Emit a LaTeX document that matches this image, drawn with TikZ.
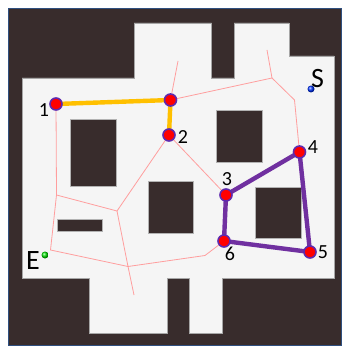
\documentclass[tikz,border=0pt]{standalone}
\usepackage{fontspec}
\setmainfont{Carlito}
\definecolor{wallcol}{HTML}{382C2C}
\definecolor{floorcol}{HTML}{F5F5F5}
\definecolor{framecol}{HTML}{2F4F7F}
\definecolor{pathorange}{HTML}{FFC000}
\definecolor{pathpurple}{HTML}{7030A0}
\definecolor{edgepink}{HTML}{FF9E9E}
\pgfdeclarelayer{edges}
\pgfsetlayers{edges,main}
\tikzset{
  wall/.style={fill=wallcol, draw=gray!60, line width=0.4pt},
  edgeline/.style={draw=edgepink, line width=0.8pt},
  orangepath/.style={draw=pathorange, line width=4.4pt},
  purplepath/.style={draw=pathpurple, line width=4.4pt},
  waypoint/.style={circle, fill=red, draw=pathpurple!85!blue, line width=1.6pt, minimum size=12pt, inner sep=0pt},
  numlabel/.style={font=\fontsize{20}{20}\selectfont, inner sep=0pt},
  endlabel/.style={font=\fontsize{28}{28}\selectfont, inner sep=0pt},
  enddot/.style={circle, minimum size=7pt, inner sep=0pt},
}
\begin{document}
\begin{tikzpicture}[x=1pt, y=-1pt]
    \useasboundingbox (0, 0) rectangle (341, 347);
    % Waypoints
    \node[waypoint] (p1) at (56, 104) {};
    \node[waypoint] (ptop) at (170.5, 100) {};
    \node[waypoint] (p2) at (169, 135) {};
    \node[waypoint] (p3) at (226, 195) {};
    \node[waypoint] (p4) at (299.5, 152) {};
    \node[waypoint] (p5) at (310, 252) {};
    \node[waypoint] (p6) at (224, 241) {};
    % Junctions and free ends
    \coordinate (ja) at (56.5, 195);
    \coordinate (jb) at (117, 211);
    \coordinate (jc) at (50.5, 250);
    \coordinate (jd) at (128, 266.5);
    \coordinate (je) at (205, 255.5);
    \coordinate (jf) at (272, 78);
    \coordinate (jg) at (294.5, 100);
    \coordinate (enda) at (134, 295);
    \coordinate (endb) at (178, 61);
    \coordinate (endc) at (267, 50);
    \begin{pgfonlayer}{edges}
        % Outer frame
        \draw[fill=wallcol, draw=framecol, line width=1.4pt] (8.7, 8.7) rectangle (342, 345.5);
        % Floor
        \draw[fill=floorcol, draw=gray!70, line width=0.5pt] (22, 78) -- (134, 78) -- (134, 23) -- (211.5, 23) -- (211.5, 78) -- (234, 78) -- (234, 23) -- (289, 23) -- (289, 56) -- (334, 56) -- (334, 278) -- (222.5, 278) -- (222.5, 333) -- (189.5, 333) -- (189.5, 278) -- (167, 278) -- (167, 333) -- (89, 333) -- (89, 278) -- (22, 278) -- cycle;
        % Obstacles
        \draw[wall] (70.5, 119) rectangle (116, 186.5);
        \draw[wall] (57, 219) rectangle (102.5, 231.5);
        \draw[wall] (148.5, 181) rectangle (193, 233);
        \draw[wall] (216.5, 110) rectangle (262, 162);
        \draw[wall] (255.5, 187) rectangle (301, 238);
        % Thin edges
        \draw[edgeline] (p1) -- (ja) -- (jc) -- (jd) -- (enda);
        \draw[edgeline] (ja) -- (jb) -- (p2) -- (p3);
        \draw[edgeline] (jb) -- (jd) -- (je) -- (p6);
        \draw[edgeline] (ptop) -- (endb);
        \draw[edgeline] (ptop) -- (jf) -- (endc);
        \draw[edgeline] (jf) -- (jg) -- (p4);
        % Paths
        \draw[orangepath] (p1.center) -- (ptop.center) -- (p2.center);
        \draw[purplepath] (p3.center) -- (p4.center) -- (p5.center) -- (p6.center) -- cycle;
    \end{pgfonlayer}
    % Start and end
    \node[enddot, ball color=blue!80!cyan] (startdot) at (311, 89) {};
    \node[enddot, ball color=green!90!black] (stopdot) at (45, 255) {};
    \node[endlabel] (startlabel) at (317.5, 78.5) {S};
    \node[endlabel] (stoplabel) at (33, 261) {E};
    % Numbers
    \node[numlabel] (n1) at (44, 110) {1};
    \node[numlabel] (n2) at (183, 137) {2};
    \node[numlabel] (n3) at (227, 179) {3};
    \node[numlabel] (n4) at (313, 147) {4};
    \node[numlabel] (n5) at (323, 252) {5};
    \node[numlabel] (n6) at (230, 254) {6};
\end{tikzpicture}
\end{document}
